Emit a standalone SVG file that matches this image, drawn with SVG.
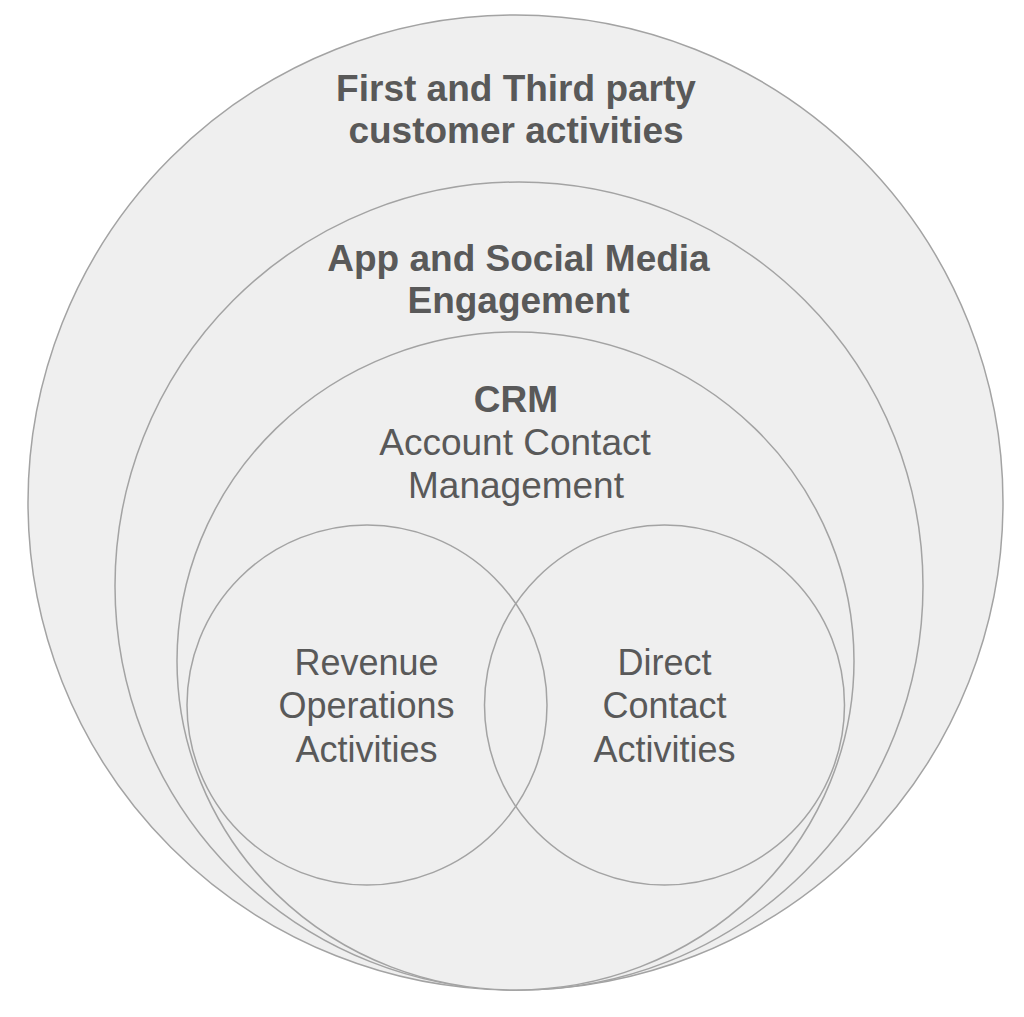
<svg xmlns="http://www.w3.org/2000/svg" width="1024" height="1017" viewBox="0 0 1024 1017">
<style>
.ring{fill:#efefef;stroke:#a3a3a3;stroke-width:1.5}
.sub{fill:none;stroke:#a3a3a3;stroke-width:1.5}
text{font-family:"Liberation Sans",Arial,sans-serif;font-size:37px;fill:#595959;text-anchor:middle}
.b{font-weight:bold}
.s{font-size:36px}
</style>
<rect width="1024" height="1017" fill="#ffffff"/>
<g id="outer">
<circle class="ring" cx="515.5" cy="502.5" r="487.5"/>
<text class="b" x="516" y="101">First and Third party</text>
<text class="b" x="516" y="143">customer activities</text>
</g>
<g id="app-social">
<circle class="ring" cx="519" cy="586" r="404"/>
<text class="b" x="518.5" y="271">App and Social Media</text>
<text class="b" x="518.5" y="313">Engagement</text>
</g>
<g id="crm">
<ellipse class="ring" cx="515.5" cy="661" rx="338.5" ry="329"/>
<text class="b" x="516" y="412">CRM</text>
<text x="515" y="455">Account Contact</text>
<text x="516" y="498">Management</text>
</g>
<g id="revenue-ops">
<circle class="sub" cx="367" cy="705" r="180"/>
<text class="s" x="366.5" y="675">Revenue</text>
<text class="s" x="366.5" y="718">Operations</text>
<text class="s" x="366.5" y="762">Activities</text>
</g>
<g id="direct-contact">
<circle class="sub" cx="664.5" cy="705" r="180"/>
<text class="s" x="664.5" y="675">Direct</text>
<text class="s" x="664.5" y="718">Contact</text>
<text class="s" x="664.5" y="762">Activities</text>
</g>
<g id="connectors"></g>
</svg>
